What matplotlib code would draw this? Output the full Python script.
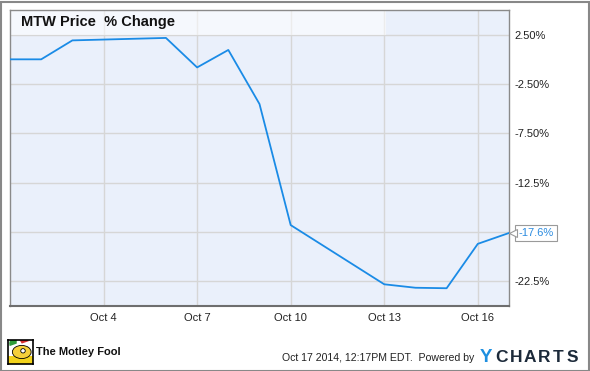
import matplotlib
matplotlib.use("Agg")
import matplotlib.pyplot as plt
import matplotlib.patches as mpatches
import matplotlib.transforms as mtransforms
import pandas as pd

# ---- data ----
dates = ["2014-10-01", "2014-10-02", "2014-10-03", "2014-10-06", "2014-10-07",
         "2014-10-08", "2014-10-09", "2014-10-10", "2014-10-13", "2014-10-14",
         "2014-10-15", "2014-10-16", "2014-10-17"]
pct_change = [0.0, 0.0, 1.92, 2.17, -0.82, 0.95, -4.53, -16.8, -22.8, -23.15,
              -23.2, -18.7, -17.6]
x_tick_dates = ["2014-10-04", "2014-10-07", "2014-10-10", "2014-10-13", "2014-10-16"]
x_tick_labels = ["Oct 4", "Oct 7", "Oct 10", "Oct 13", "Oct 16"]
y_ticks = [2.5, -2.5, -7.5, -12.5, -17.5, -22.5]
y_tick_labels = ["2.50%", "-2.50%", "-7.50%", "-12.5%", "", "-22.5%"]
title = "MTW Price  % Change"
last_label = "-17.6%"
footer = "Oct 17 2014, 12:17PM EDT.  Powered by"

plt.rcParams['font.family'] = ['Liberation Sans', 'DejaVu Sans']

W, H = 590, 371
fig = plt.figure(figsize=(W / 100, H / 100), dpi=100)
fig.patch.set_facecolor("white")

ax = fig.add_axes([10 / W, 65 / H, 499 / W, 296 / H])
ax.set_facecolor("#eaf0fb")

xd = pd.to_datetime(dates)
ax.plot(xd, pct_change, color="#1a8be6", lw=1.3, zorder=3, solid_joinstyle="round")

ax.set_xlim(pd.Timestamp("2014-10-01"), pd.Timestamp("2014-10-17"))
ax.set_ylim(-25, 5)

ax.set_xticks(pd.to_datetime(x_tick_dates))
ax.set_xticklabels(x_tick_labels, fontsize=8, color="#222222")
ax.set_yticks(y_ticks)
ax.set_yticklabels(y_tick_labels, fontsize=8, color="#222222")
ax.yaxis.tick_right()
ax.tick_params(axis="both", length=0)
ax.tick_params(axis="x", pad=5)
ax.tick_params(axis="y", pad=4)
ax.grid(True, color="#d6d6d6", lw=1.0, zorder=0)
ax.set_axisbelow(True)

for side in ["left", "top", "right"]:
    ax.spines[side].set_color("#8a8a8a")
    ax.spines[side].set_linewidth(1.0)
ax.spines["bottom"].set_color("#6e6e6e")
ax.spines["bottom"].set_linewidth(1.5)

# title band
trans = mtransforms.blended_transform_factory(ax.transAxes, ax.transData)
band = mpatches.Rectangle((0, 2.5), 0.7535, 2.5, transform=trans,
                          facecolor="white", alpha=0.55, edgecolor="none", zorder=2)
ax.add_patch(band)
ax.text(0.022, 3.75, title, transform=trans, fontsize=10.5, fontweight="bold",
        va="center", ha="left", color="#111111", zorder=4)

# last value callout
ax.annotate(last_label, xy=(xd[-1], pct_change[-1]), xytext=(6.6, 0),
            textcoords="offset points", fontsize=8, color="#2a8be0",
            va="center", ha="left", annotation_clip=False, zorder=5,
            bbox=dict(boxstyle="square,pad=0.3", fc="white", ec="#9a9a9a", lw=0.8))
ax.plot([xd[-1]], [pct_change[-1]], marker="<", ms=5.5, mfc="white", mec="#9a9a9a",
        mew=0.8, clip_on=False, zorder=6,
        transform=ax.transData + mtransforms.ScaledTranslation(2.6 / 72, 0, fig.dpi_scale_trans))

# footer
fig.text(282 / W, 1 - 358 / H, footer, fontsize=7.6, color="#222222", va="center", ha="left")
fig.text(485.5 / W, 1 - 358 / H, "Y", fontsize=13.5, fontweight="bold", color="#1e8fe0",
         va="center", ha="center")
for i, ch in enumerate("CHARTS"):
    fig.text((502 + 14 * i) / W, 1 - 358 / H, ch, fontsize=12.5, fontweight="bold",
             color="#1c2a3a", va="center", ha="center")

# Motley Fool logo
logo = fig.add_axes([8 / W, 1 - 364 / H, 25 / W, 24 / H])
logo.set_xlim(0, 1); logo.set_ylim(0, 1)
logo.set_xticks([]); logo.set_yticks([])
for s in logo.spines.values():
    s.set_color("black"); s.set_linewidth(1.2)
logo.set_facecolor("white")
logo.add_patch(mpatches.Rectangle((0, 0), 1, 0.35, fc="#f2d21b", ec="none"))
logo.add_patch(mpatches.Ellipse((0.55, 0.5), 0.75, 0.55, fc="#f5cf3a", ec="black", lw=0.6))
logo.add_patch(mpatches.Wedge((0.35, 0.85), 0.3, 90, 200, fc="#2e9b3a", ec="none"))
logo.add_patch(mpatches.Wedge((0.55, 0.85), 0.3, 20, 120, fc="#d62f2f", ec="none"))
logo.add_patch(mpatches.Circle((0.6, 0.55), 0.09, fc="white", ec="black", lw=0.6))
fig.text(36 / W, 1 - 352 / H, "The Motley Fool", fontsize=8, fontweight="bold",
         color="#111111", va="center", ha="left")

# outer border
fig.add_artist(mpatches.Rectangle((0.5 / W, 0.5 / H), 1 - 2 / W, 1 - 2 / H,
                                  transform=fig.transFigure, fill=False,
                                  ec="#888888", lw=1.5))

fig.savefig("out.png", dpi=100)
